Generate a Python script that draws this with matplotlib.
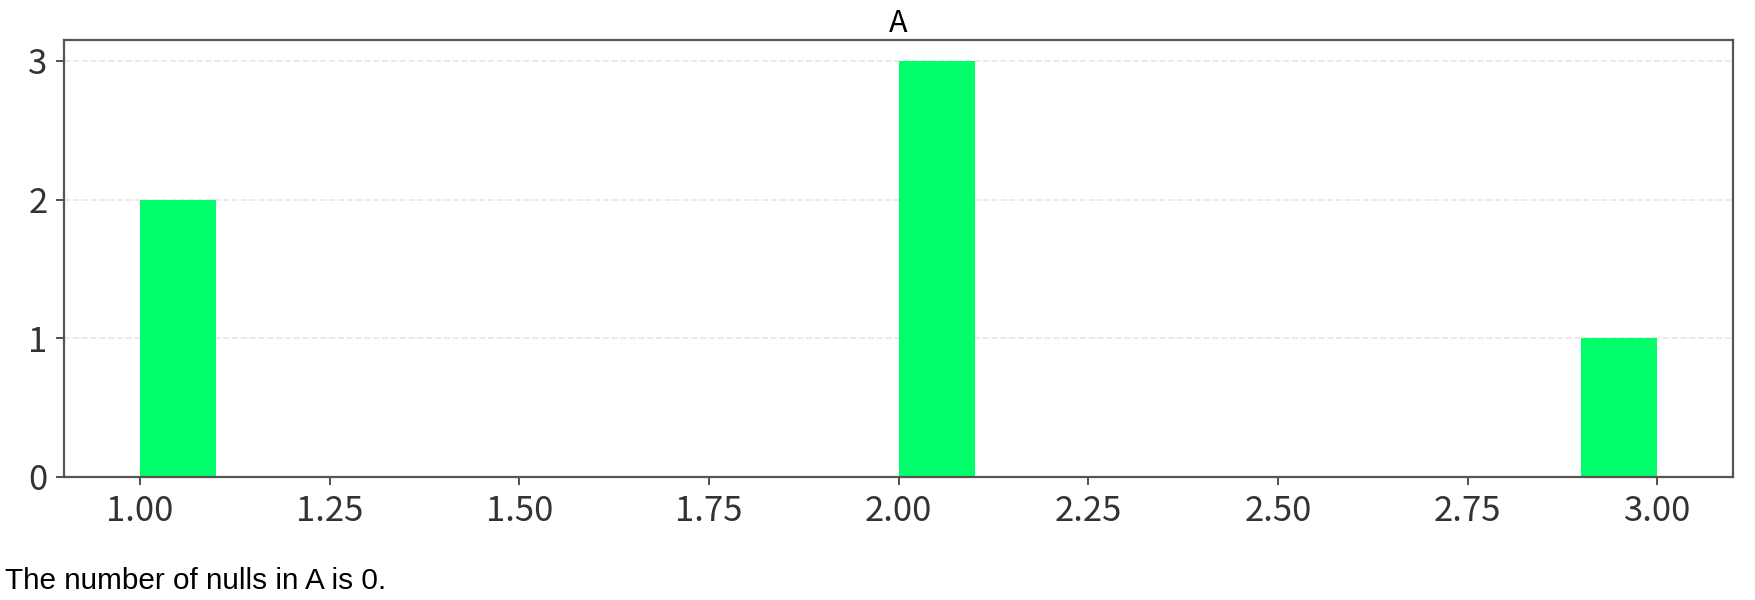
import numpy as np
import matplotlib as mpl
mpl.use('Agg')
import matplotlib.pyplot as plt

# column A values and histogram settings
values_a = [1, 1, 2, 2, 2, 3]
n_bins = 20
bar_color = '#00ff6a'
null_count = 0

plt.rcParams['font.family'] = ['Noto Sans CJK JP', 'DejaVu Sans']

fig = plt.figure(figsize=(8.78, 3.0), dpi=200)
ax = fig.add_axes([0.0365, 0.205, 0.9505, 0.728])

ax.hist(values_a, bins=n_bins, color=bar_color)
ax.set_title('A', fontsize=11, pad=3)
ax.set_yticks([0, 1, 2, 3])
ax.grid(axis='y', linestyle='--', color='#e6e6e6', linewidth=0.6)
ax.set_axisbelow(True)
ax.tick_params(labelsize=12.5, colors='#333333', length=3, width=0.6, pad=3)
for s in ax.spines.values():
    s.set_color('#555555')
    s.set_linewidth(0.8)

fig.text(0.003, 0.018, 'The number of nulls in A is %d.' % null_count,
         fontsize=10.7, family=['Liberation Sans', 'DejaVu Sans'], color='black')

plt.savefig('out.png')
